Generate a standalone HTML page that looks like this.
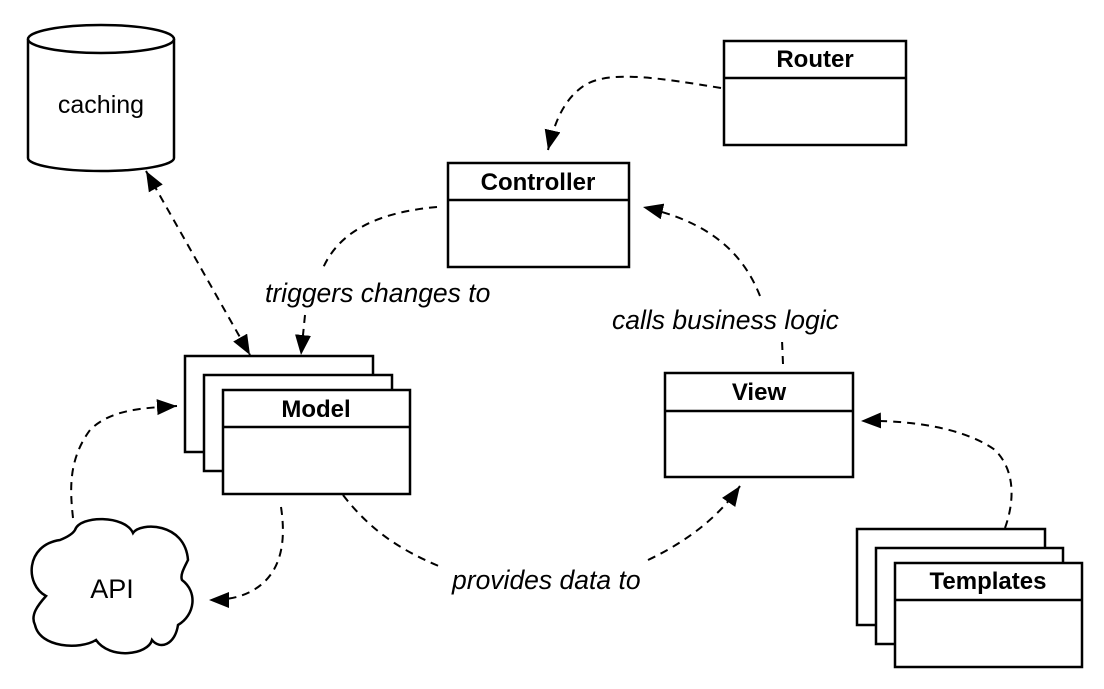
<!DOCTYPE html>
<html><head><meta charset="utf-8"><style>
html,body{margin:0;padding:0;background:#fff;}
svg{display:block;}
text{font-family:"Liberation Sans",Arial,sans-serif;}
.b{font-weight:bold;font-size:24px;}
.i{font-style:italic;font-size:26.5px;}
.box{fill:#fff;stroke:#000;stroke-width:2.5;}
.d{fill:none;stroke:#000;stroke-width:2;stroke-dasharray:8,6;}
</style></head><body>
<svg width="1104" height="689" viewBox="0 0 1104 689" xmlns="http://www.w3.org/2000/svg">
<defs>
<marker id="ar" markerWidth="20" markerHeight="20" refX="20" refY="8" orient="auto" markerUnits="userSpaceOnUse">
<path d="M0,0 L20,8 L0,16 Z" fill="#000"/>
</marker>
<marker id="as" markerWidth="20" markerHeight="20" refX="0" refY="8" orient="auto" markerUnits="userSpaceOnUse">
<path d="M20,0 L0,8 L20,16 Z" fill="#000"/>
</marker>
</defs>

<!-- caching cylinder -->
<path class="box" d="M28,39 L28,158 A73,13 0 0 0 174,158 L174,39"/>
<ellipse class="box" cx="101" cy="39" rx="73" ry="14"/>
<text x="101" y="113" text-anchor="middle" font-size="25">caching</text>

<!-- cloud -->
<path class="box" d="M75,530 C80,515 125,515 133,533 C140,522 185,522 188,560 C184,568 180,575 182,580 C198,592 195,615 178,625 C175,645 160,650 152,640 C148,655 110,660 96,640 C80,650 40,648 35,625 C30,615 38,605 46,596 C25,585 25,545 60,540 C65,538 72,535 75,530 Z"/>
<text x="112" y="598" text-anchor="middle" font-size="27">API</text>

<!-- Router -->
<rect class="box" x="724" y="41" width="182" height="104"/>
<line class="box" x1="724" y1="78" x2="906" y2="78"/>
<text class="b" x="815" y="67" text-anchor="middle">Router</text>

<!-- Controller -->
<rect class="box" x="448" y="163" width="181" height="104"/>
<line class="box" x1="448" y1="200" x2="629" y2="200"/>
<text class="b" x="538" y="190" text-anchor="middle">Controller</text>

<!-- View -->
<rect class="box" x="665" y="373" width="188" height="104"/>
<line class="box" x1="665" y1="411" x2="853" y2="411"/>
<text class="b" x="759" y="400" text-anchor="middle">View</text>

<!-- Model stack -->
<rect class="box" x="185" y="356" width="188" height="96"/>
<rect class="box" x="204" y="375" width="188" height="96"/>
<rect class="box" x="223" y="390" width="187" height="104"/>
<line class="box" x1="223" y1="427" x2="410" y2="427"/>
<text class="b" x="316" y="417" text-anchor="middle">Model</text>

<!-- Templates stack -->
<rect class="box" x="857" y="529" width="188" height="96"/>
<rect class="box" x="876" y="548" width="187" height="96"/>
<rect class="box" x="895" y="563" width="187" height="104"/>
<line class="box" x1="895" y1="600" x2="1082" y2="600"/>
<text class="b" x="988" y="589" text-anchor="middle">Templates</text>

<!-- connectors -->
<path class="d" d="M721,88 C660,78 610,70 585,85 C565,98 555,120 548,150" marker-end="url(#ar)"/>
<path class="d" d="M437,207 C380,212 340,230 323,268"/>
<path class="d" d="M305,315 L301,355" marker-end="url(#ar)"/>
<path class="d" d="M146,171 L250,355" marker-start="url(#as)" marker-end="url(#ar)"/>
<path class="d" d="M783,364 L782,340"/>
<path class="d" d="M760,296 C740,245 700,220 643,207" marker-end="url(#ar)"/>
<path class="d" d="M1005,528 C1015,500 1015,470 995,450 C960,425 900,420 861,421" marker-end="url(#ar)"/>
<path class="d" d="M343,495 C370,530 400,550 441,567"/>
<path class="d" d="M648,560 C690,540 720,515 740,486" marker-end="url(#ar)"/>
<path class="d" d="M281,507 C286,540 283,575 250,592 C238,598 225,600 209,600" marker-end="url(#ar)"/>
<path class="d" d="M73,518 C70,490 68,460 90,430 C110,410 140,408 177,406" marker-end="url(#ar)"/>

<!-- labels -->
<text class="i" x="265" y="302">triggers changes to</text>
<text class="i" x="612" y="329">calls business logic</text>
<text class="i" x="452" y="589">provides data to</text>
</svg>
</body></html>
